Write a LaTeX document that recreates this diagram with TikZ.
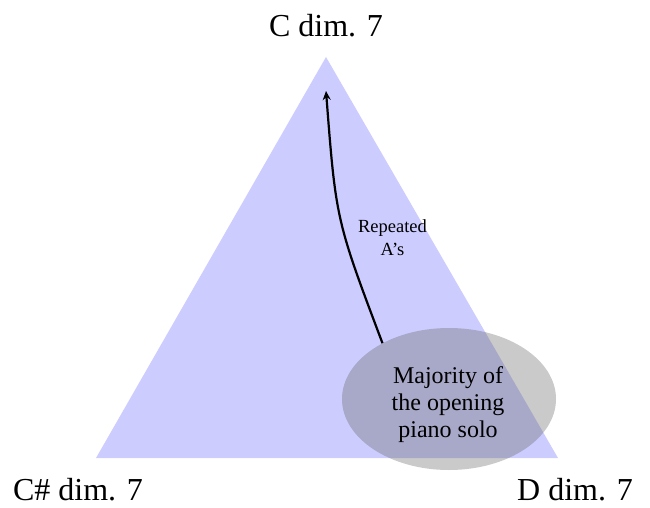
\documentclass[tikz,border=0pt]{standalone}
\usepackage{fontspec}
\setmainfont{Liberation Serif}
\usetikzlibrary{shapes.geometric,arrows.meta}
\definecolor{triblue}{RGB}{204,204,255}
\tikzset{
  corner/.style={font=\fontsize{32}{36}\selectfont, inner sep=0pt, anchor=base, text depth=0pt},
  blob/.style={ellipse, fill=black!60, fill opacity=0.35, minimum width=214pt, minimum height=142pt, inner sep=0pt},
  blobtext/.style={font=\fontsize{24}{27}\selectfont, align=center, inner sep=0pt},
  smalltext/.style={font=\fontsize{18.5}{23}\selectfont, align=center, inner sep=0pt},
  conn/.style={line width=2.2pt, -{Stealth[length=9pt,width=8pt]}}
}
\begin{document}
\begin{tikzpicture}[x=1pt,y=-1pt]
\useasboundingbox (0,0) rectangle (650,508);
\coordinate (top) at (326,57);
\coordinate (bl) at (96,458);
\coordinate (br) at (558,458);
\fill[triblue] (top) -- (bl) -- (br) -- cycle;
\node[corner] (lc) at (326,37) {C dim. 7};
\node[corner] (lcs) at (78,500) {C\# dim. 7};
\node[corner] (ld) at (575,500) {D dim. 7};
\node[blob] (ell) at (449,399) {};
\coordinate (tip) at (326,91);
\draw[conn] (ell.140) .. controls (336,220) .. (tip);
\node[smalltext] (rep) at (392.5,238) {Repeated\\A’s};
\node[blobtext] (maj) at (448,405) {Majority of\\the opening\\piano solo};
\end{tikzpicture}
\end{document}
